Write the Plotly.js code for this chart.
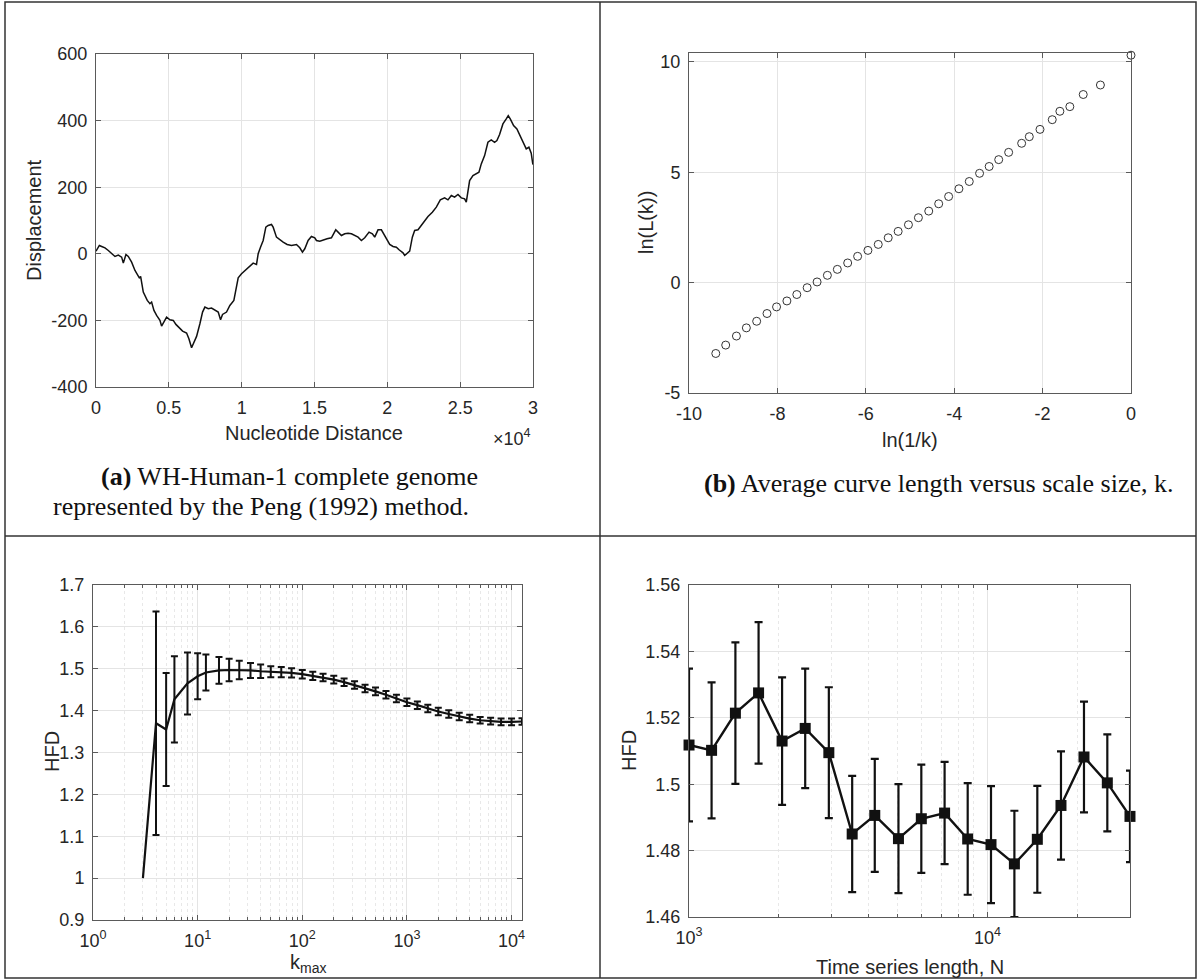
<!DOCTYPE html>
<html>
<head>
<meta charset="utf-8">
<script src="https://cdn.plot.ly/plotly-3.0.1.min.js"></script>
<style>html,body{margin:0;padding:0;background:#fff;}#chart{width:1200px;height:980px;}</style>
</head>
<body>
<div id="chart"></div>
<script>
// ---------- Panel (a): Peng walk ----------
const dispX = [0,229,389,617,846,1074,1303,1532,1760,1875,2057,2217,2446,2675,2972,3063,3246,3520,3703,3818,3978,4161,4389,4503,4663,4846,5075,5304,5486,5715,5944,6218,6378,6561,6721,6904,7132,7315,7475,7704,7932,8161,8390,8550,8687,8961,9190,9464,9647,9761,9990,10218,10447,10790,11019,11133,11293,11476,11659,11819,12047,12162,12390,12619,12847,13122,13419,13762,13990,14173,14333,14562,14790,15019,15133,15362,15591,15865,16162,16459,16619,16848,17076,17305,17534,17762,17991,18219,18448,18745,18974,19134,19362,19591,19751,19980,20163,20391,20620,20803,21077,21191,21351,21534,21717,21877,22106,22334,22563,22791,23089,23363,23637,23934,24163,24392,24620,24849,25077,25306,25420,25649,25878,26106,26289,26449,26678,26906,27135,27363,27523,27706,27935,28164,28301,28438,28667,28895,29124,29307,29535,29718,29878,29992];
const dispY = [8,25,22,18,10,0,-8,-4,-10,-28,-2,-8,-25,-50,-72,-68,-115,-140,-150,-145,-170,-185,-200,-217,-205,-190,-198,-200,-212,-222,-232,-238,-255,-282,-265,-248,-210,-175,-160,-165,-163,-168,-175,-198,-182,-175,-155,-140,-100,-72,-60,-50,-40,-28,-32,0,20,40,80,85,88,80,50,42,35,28,25,28,18,5,15,40,52,48,40,38,42,45,48,72,65,55,60,62,60,55,50,40,48,65,60,50,72,72,60,40,28,22,20,12,3,-5,0,8,50,70,72,85,100,112,125,140,162,168,162,175,170,178,168,165,155,220,235,240,245,270,295,335,342,335,340,358,390,405,415,405,385,375,355,335,315,320,302,268];
const aTickVals = [0,5000,10000,15000,20000,25000,30000];
const aTickText = ['0','0.5','1','1.5','2','2.5','3'];
const aYTicks = [-400,-200,0,200,400,600];

// ---------- Panel (b): ln L(k) vs ln(1/k) ----------
const lnInvK = [-9.394,-9.170,-8.927,-8.702,-8.469,-8.235,-8.019,-7.785,-7.561,-7.327,-7.102,-6.869,-6.644,-6.410,-6.185,-5.952,-5.718,-5.493,-5.268,-5.035,-4.810,-4.576,-4.351,-4.126,-3.893,-3.659,-3.426,-3.209,-2.993,-2.768,-2.474,-2.301,-2.059,-1.782,-1.609,-1.384,-1.081,-0.692,0];
const lnLk = [-3.21,-2.83,-2.42,-2.05,-1.75,-1.40,-1.10,-0.83,-0.54,-0.23,0.03,0.33,0.60,0.89,1.19,1.46,1.73,2.03,2.32,2.62,2.94,3.24,3.57,3.90,4.25,4.58,4.95,5.26,5.57,5.90,6.31,6.61,6.94,7.38,7.76,7.97,8.52,8.95,10.30];
const bXTicks = [-10,-8,-6,-4,-2,0];
const bYTicks = [-5,0,5,10];

// ---------- Panel (c): HFD vs kmax ----------
const kmax = [3,4,5,6,8,10,12,16,20,25,32,40,50,63,79,100,126,158,200,251,316,398,501,631,794,1000,1259,1585,1995,2512,3162,3981,5012,6310,7943,10000,12589];
const hfdK = [1.000,1.370,1.355,1.427,1.465,1.482,1.491,1.496,1.497,1.497,1.496,1.494,1.493,1.492,1.490,1.487,1.483,1.479,1.474,1.468,1.461,1.453,1.446,1.438,1.429,1.420,1.413,1.405,1.398,1.392,1.386,1.381,1.377,1.375,1.373,1.373,1.374];
// first point (k=3) has no error bar
const errK = [null,0.267,0.135,0.103,0.074,0.055,0.043,0.032,0.027,0.022,0.018,0.016,0.013,0.012,0.011,0.010,0.010,0.009,0.009,0.009,0.009,0.009,0.009,0.009,0.009,0.009,0.009,0.009,0.009,0.009,0.009,0.009,0.008,0.008,0.008,0.008,0.008];
const cXTicks = [1,10,100,1000,10000];
const cXText = ['10<sup>0</sup>','10<sup>1</sup>','10<sup>2</sup>','10<sup>3</sup>','10<sup>4</sup>'];
const cYTicks = [0.9,1.0,1.1,1.2,1.3,1.4,1.5,1.6,1.7];
const cYText = ['0.9','1','1.1','1.2','1.3','1.4','1.5','1.6','1.7'];

// ---------- Panel (d): HFD vs N ----------
const lenN = [1000,1190,1430,1710,2050,2450,2940,3520,4190,5030,6000,7180,8580,10270,12300,14680,17620,21040,25190,30000];
const hfdN = [1.5118,1.5102,1.5214,1.5275,1.5130,1.5168,1.5095,1.4850,1.4906,1.4836,1.4896,1.4913,1.4835,1.4818,1.4760,1.4834,1.4936,1.5082,1.5004,1.4903];
const errN = [0.0230,0.0205,0.0213,0.0213,0.0192,0.0180,0.0197,0.0175,0.0170,0.0164,0.0163,0.0154,0.0168,0.0176,0.0160,0.0161,0.0163,0.0167,0.0146,0.0138];
const dXTicks = [1000,10000];
const dXText = ['10<sup>3</sup>','10<sup>4</sup>'];
const dYTicks = [1.46,1.48,1.50,1.52,1.54,1.56];
const dYText = ['1.46','1.48','1.5','1.52','1.54','1.56'];

// ---------- layout helpers ----------
const W = 1200, H = 980;
const px = x => x / W;
const py = y => 1 - y / H;
const sans = 'Liberation Sans, Arial, Helvetica, sans-serif';
const serif = 'Liberation Serif, Times New Roman, serif';
const tickFont = {family: sans, size: 18, color: '#262626'};
const gridC = '#e4e4e4';
const lineC = '#5a5a5a';

function axisBase(extra) {
  return Object.assign({
    showline: true, linecolor: lineC, linewidth: 1, mirror: 'ticks',
    ticks: 'inside', ticklen: 5, tickcolor: lineC, tickwidth: 1,
    showgrid: true, gridcolor: gridC, gridwidth: 1, zeroline: false,
    tickfont: tickFont, ticklabelstandoff: 4, fixedrange: true
  }, extra);
}

const errIdx = errK.map((e, i) => i).filter(i => errK[i] !== null);

const traces = [
  {x: dispX, y: dispY, type: 'scatter', mode: 'lines', xaxis: 'x', yaxis: 'y',
   line: {color: '#111', width: 1.5}, hoverinfo: 'skip'},
  {x: lnInvK, y: lnLk, type: 'scatter', mode: 'markers', xaxis: 'x2', yaxis: 'y2',
   marker: {symbol: 'circle-open', size: 8, color: '#333', line: {width: 1, color: '#333'}},
   cliponaxis: false, hoverinfo: 'skip'},
  {x: kmax, y: hfdK, type: 'scatter', mode: 'lines', xaxis: 'x3', yaxis: 'y3',
   line: {color: '#111', width: 2.2}, cliponaxis: false, hoverinfo: 'skip'},
  {x: errIdx.map(i => kmax[i]), y: errIdx.map(i => hfdK[i]), type: 'scatter', mode: 'markers',
   xaxis: 'x3', yaxis: 'y3', marker: {size: 1, opacity: 0},
   error_y: {type: 'data', array: errIdx.map(i => errK[i]), visible: true, color: '#111', thickness: 2, width: 3.5},
   cliponaxis: false, hoverinfo: 'skip'},
  {x: lenN, y: hfdN, type: 'scatter', mode: 'lines+markers', xaxis: 'x4', yaxis: 'y4',
   line: {color: '#111', width: 2.4},
   marker: {symbol: 'square', size: 11, color: '#111'},
   error_y: {type: 'data', array: errN, visible: true, color: '#111', thickness: 2.2, width: 4},
   cliponaxis: false, hoverinfo: 'skip'}
];

function ann(text, x, y, opts) {
  return Object.assign({text: text, x: px(x), y: py(y), xref: 'paper', yref: 'paper',
    showarrow: false, xanchor: 'center', yanchor: 'middle',
    font: {family: sans, size: 20, color: '#262626'}}, opts || {});
}
const capFont = {family: serif, size: 26, color: '#111'};

const annotations = [
  ann('Displacement', 34, 220, {textangle: -90}),
  ann('Nucleotide Distance', 314, 433),
  ann('×10<sup>4</sup>', 512, 437, {font: {family: sans, size: 18, color: '#262626'}}),
  ann('ln(L(k))', 646, 223, {textangle: -90}),
  ann('ln(1/k)', 910, 440),
  ann('HFD', 52, 752, {textangle: -90}),
  ann('k<sub>max</sub>', 308, 963),
  ann('HFD', 629, 751, {textangle: -90}),
  ann('Time series length, N', 910, 967),
  // captions: left-aligned paragraphs with a first-line indent
  ann('<b>(a)</b> WH-Human-1 complete genome', 99, 477, {font: capFont, xanchor: 'left'}),
  ann('represented by the Peng (1992) method.', 51, 506, {font: capFont, xanchor: 'left'}),
  ann('<b>(b)</b> Average curve length versus scale size, k.', 702, 484, {font: capFont, xanchor: 'left'})
];

const borderC = '#333';
const shapes = [
  {type: 'rect', xref: 'paper', yref: 'paper', x0: px(5), x1: px(1196), y0: py(978), y1: py(2),
   line: {color: borderC, width: 1.5}},
  {type: 'line', xref: 'paper', yref: 'paper', x0: px(600), x1: px(600), y0: py(978), y1: py(2),
   line: {color: borderC, width: 1.5}},
  {type: 'line', xref: 'paper', yref: 'paper', x0: px(5), x1: px(1196), y0: py(536), y1: py(536),
   line: {color: borderC, width: 1.5}}
];

const minorLog = {dtick: 'D1', showgrid: true, gridcolor: '#e8e8e8', griddash: 'dot', ticks: 'inside', ticklen: 3, tickcolor: lineC};

const layout = {
  width: W, height: H,
  margin: {l: 0, r: 0, t: 0, b: 0},
  paper_bgcolor: '#fff', plot_bgcolor: '#fff',
  showlegend: false,
  xaxis: axisBase({domain: [px(96), px(533)], range: [0, 30000], tickvals: aTickVals, ticktext: aTickText, anchor: 'y'}),
  yaxis: axisBase({domain: [py(387), py(54)], range: [-400, 600], tickvals: aYTicks, ticktext: aYTicks.map(String), anchor: 'x'}),
  xaxis2: axisBase({domain: [px(689), px(1131)], range: [-10, 0], tickvals: bXTicks, ticktext: bXTicks.map(String), anchor: 'y2'}),
  yaxis2: axisBase({domain: [py(393), py(53)], range: [-5, 10.4], tickvals: bYTicks, ticktext: bYTicks.map(String), anchor: 'x2'}),
  xaxis3: axisBase({domain: [px(93), px(522)], type: 'log', range: [0, 4.1],
    tickvals: cXTicks, ticktext: cXText, anchor: 'y3', minor: minorLog}),
  yaxis3: axisBase({domain: [py(920), py(585)], range: [0.9, 1.7], tickvals: cYTicks, ticktext: cYText, anchor: 'x3'}),
  xaxis4: axisBase({domain: [px(689), px(1130)], type: 'log', range: [2.9999, 4.4772],
    tickvals: dXTicks, ticktext: dXText, anchor: 'y4', minor: minorLog}),
  yaxis4: axisBase({domain: [py(917), py(585)], range: [1.46, 1.56], tickvals: dYTicks, ticktext: dYText, anchor: 'x4'}),
  annotations: annotations,
  shapes: shapes
};

Plotly.newPlot('chart', traces, layout, {displayModeBar: false, staticPlot: true});
</script>
</body>
</html>
